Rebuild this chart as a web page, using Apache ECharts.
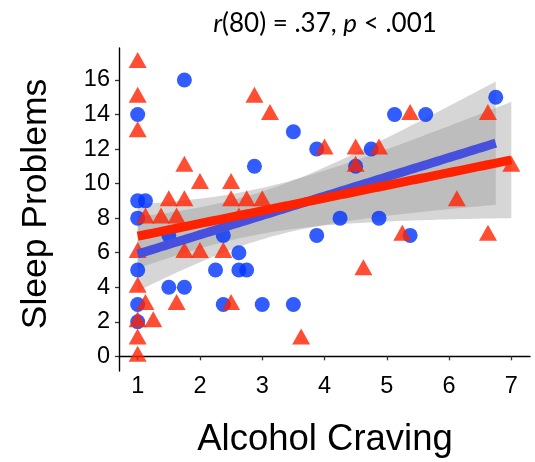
<!DOCTYPE html>
<html>
<head>
<meta charset="utf-8">
<script src="https://cdn.jsdelivr.net/npm/echarts@6/dist/echarts.min.js"></script>
<style>
  html, body { margin: 0; padding: 0; background: #fff; }
  #chart { width: 535px; height: 462px; }
</style>
</head>
<body>
<div id="chart"></div>
<script>
// Group 1 (blue circles): alcohol craving vs. sleep problems
const blueX = [1, 1.75, 2.875, 1, 1.125, 1, 1.5, 2.375, 2.625, 1, 2.25, 2.625, 2.75, 1.5, 1.75, 1, 2.375, 1,
               3.5, 3.875, 4.75, 4.5, 5.125, 5.625, 6.75, 4.25, 4.875, 3.875, 5.375, 3, 3.5];
const blueY = [14, 16, 11, 9, 9, 8, 7, 7, 6, 5, 5, 5, 5, 4, 4, 3, 3, 2,
               13, 12, 12, 11, 14, 14, 15, 8, 8, 7, 7, 3, 3];

// Group 2 (red triangles)
const redX = [1, 1, 1, 1.75, 2, 2.5, 2.875, 3.125, 1.5, 1.75, 2.5, 2.75, 3, 1.125, 1.375, 1.625, 2.625,
              1, 1.75, 2, 2.375, 1, 1.125, 1.625, 2.5, 1, 1.25, 1, 1, 3.625,
              4, 4.5, 4.875, 4.5, 5.375, 6.625, 7, 6.125, 5.25, 6.625, 4.625];
const redY = [17, 15, 13, 11, 10, 10, 15, 14, 9, 9, 9, 9, 9, 8, 8, 8, 8,
              6, 6, 6, 6, 4, 3, 3, 3, 2, 2, 1, 0, 1,
              12, 12, 12, 11, 14, 14, 11, 9, 7, 7, 5];

// Axis tick labels
const xTicks = [1, 2, 3, 4, 5, 6, 7];
const yTicks = [0, 2, 4, 6, 8, 10, 12, 14, 16];

const titleText = '{i|r}(80) = .37, {i|p} < .001';
const xTitle = 'Alcohol Craving';
const yTitle = 'Sleep Problems';

// two-sided 95% t critical value (Cornish-Fisher expansion)
function tCrit(df) {
  const z = 1.959964;
  const z3 = z * z * z, z5 = z3 * z * z, z7 = z5 * z * z;
  return z + (z3 + z) / (4 * df) + (5 * z5 + 16 * z3 + 3 * z) / (96 * df * df)
    + (3 * z7 + 19 * z5 + 17 * z3 - 15 * z) / (384 * df * df * df);
}

// Least-squares line with 95% confidence band, like a linear smoother
function linearFit(xs, ys) {
  const n = xs.length;
  const mx = xs.reduce((a, b) => a + b, 0) / n;
  const my = ys.reduce((a, b) => a + b, 0) / n;
  let sxx = 0, sxy = 0;
  for (let i = 0; i < n; i++) { sxx += (xs[i] - mx) ** 2; sxy += (xs[i] - mx) * (ys[i] - my); }
  const b = sxy / sxx, a = my - b * mx;
  let sse = 0;
  for (let i = 0; i < n; i++) sse += (ys[i] - a - b * xs[i]) ** 2;
  const s = Math.sqrt(sse / (n - 2));
  const t = tCrit(n - 2);
  const lo = Math.min(...xs), hi = Math.max(...xs);
  const line = [], band = [];
  for (let k = 0; k < 80; k++) {
    const x = lo + (hi - lo) * k / 79;
    const yh = a + b * x;
    const se = s * Math.sqrt(1 / n + (x - mx) ** 2 / sxx);
    line.push([x, yh]);
    band.push([x, yh - t * se, yh + t * se]);
  }
  return { line, band };
}

const blueFit = linearFit(blueX, blueY);
const redFit = linearFit(redX, redY);

function bandSeries(band) {
  return {
    type: 'custom',
    data: band,
    encode: { x: 0, y: [1, 2] },
    silent: true,
    renderItem: function (params, api) {
      if (params.dataIndex !== 0) return null;
      const upper = band.map(p => api.coord([p[0], p[2]]));
      const lower = band.map(p => api.coord([p[0], p[1]])).reverse();
      return {
        type: 'polygon',
        shape: { points: upper.concat(lower) },
        style: { fill: 'rgba(153,153,153,0.4)', stroke: null }
      };
    }
  };
}

const chart = echarts.init(document.getElementById('chart'), null, { renderer: 'canvas' });

const labelFont = { fontFamily: 'Liberation Sans, Arial, sans-serif', fontSize: 23.5, color: '#000' };

chart.setOption({
  animation: false,
  backgroundColor: '#fff',
  grid: { left: 119, right: 5, top: 48, bottom: 91 },
  xAxis: {
    type: 'value', min: 0.7, max: 7.3,
    splitLine: { show: false },
    axisLine: { show: true, lineStyle: { color: '#000', width: 1.4 } },
    axisTick: { show: true, length: 4, lineStyle: { color: '#333', width: 1.3 }, customValues: xTicks },
    axisLabel: Object.assign({ margin: 4, customValues: xTicks }, labelFont)
  },
  yAxis: {
    type: 'value', min: -0.85, max: 17.85,
    splitLine: { show: false },
    axisLine: { show: true, lineStyle: { color: '#000', width: 1.4 } },
    axisTick: { show: true, length: 4, lineStyle: { color: '#333', width: 1.3 }, customValues: yTicks },
    axisLabel: Object.assign({ margin: 9, customValues: yTicks }, labelFont)
  },
  graphic: [
    {
      type: 'text', x: 325, y: 24,
      style: {
        text: titleText, align: 'center', verticalAlign: 'middle',
        font: '26px Lato, "Open Sans", sans-serif', fill: '#000',
        rich: { i: { fontStyle: 'italic', fontFamily: 'Lato, "Open Sans", sans-serif', fontSize: 26, fill: '#000' } }
      }
    },
    {
      type: 'text', x: 325, y: 440,
      style: { text: xTitle, align: 'center', verticalAlign: 'middle', font: '36.5px "Liberation Sans", Arial, sans-serif', fill: '#000' }
    },
    {
      type: 'text', x: 36, y: 204, rotation: Math.PI / 2,
      style: { text: yTitle, align: 'center', verticalAlign: 'middle', font: '35.5px "Liberation Sans", Arial, sans-serif', fill: '#000' }
    }
  ],
  series: [
    {
      type: 'scatter', symbol: 'circle', symbolSize: 15,
      itemStyle: { color: '#0033ff' },
      data: blueX.map((x, i) => [x, blueY[i]])
    },
    {
      type: 'scatter', symbol: 'triangle', symbolSize: [18, 16], symbolOffset: [0, -2.6],
      itemStyle: { color: '#ff2200' },
      data: redX.map((x, i) => [x, redY[i]])
    },
    bandSeries(blueFit.band),
    bandSeries(redFit.band),
    {
      type: 'line', showSymbol: false, silent: true,
      lineStyle: { color: '#4650dc', width: 9, cap: 'butt' },
      data: blueFit.line
    },
    {
      type: 'line', showSymbol: false, silent: true,
      lineStyle: { color: '#ff2200', width: 9, cap: 'butt' },
      data: redFit.line
    }
  ]
});
</script>
</body>
</html>
